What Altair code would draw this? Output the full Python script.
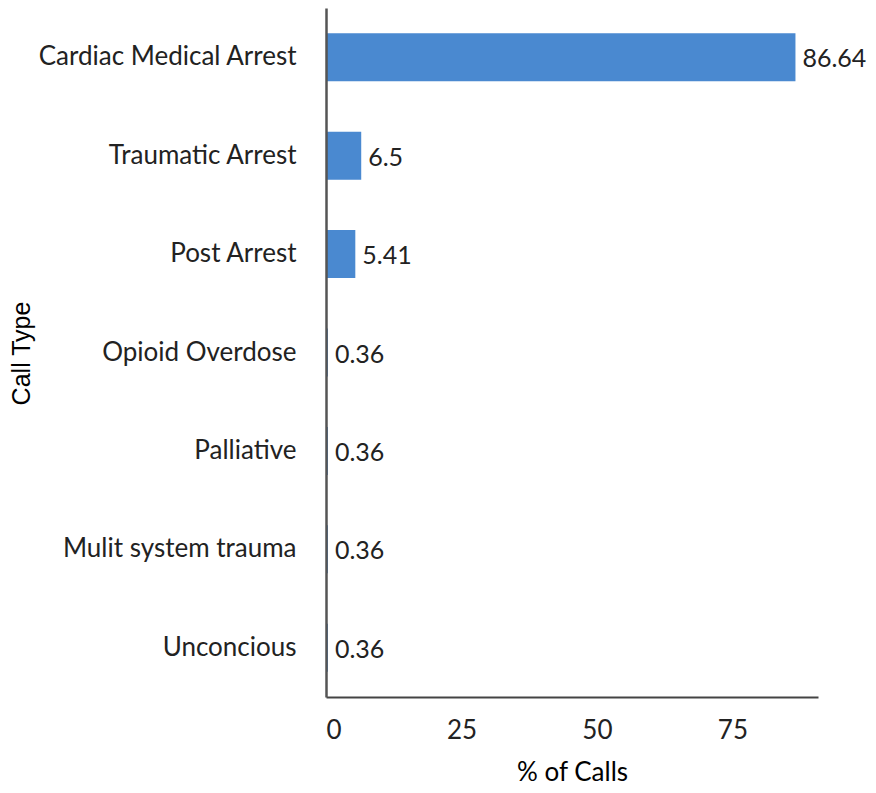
import altair as alt
import pandas as pd

categories = ["Cardiac Medical Arrest", "Traumatic Arrest", "Post Arrest",
              "Opioid Overdose", "Palliative", "Mulit system trauma", "Unconcious"]
values = [86.64, 6.5, 5.41, 0.36, 0.36, 0.36, 0.36]
value_labels = ["86.64", "6.5", "5.41", "0.36", "0.36", "0.36", "0.36"]
x_ticks = [0, 25, 50, 75]

df = pd.DataFrame({"cat": categories, "val": values, "lab": value_labels})

y_enc = alt.Y("cat:N", sort=categories,
              scale=alt.Scale(paddingInner=0, paddingOuter=0),
              axis=alt.Axis(title="Call Type", ticks=False, labelPadding=30,
                            labelLimit=0, zindex=1,
                            labelFont="Lato", labelFontSize=26, labelColor="#222",
                            titleFont="Arial", titleFontSize=25,
                            titleFontWeight="normal", titleColor="#000",
                            titleX=-305, titleY=345, titleAngle=-90,
                            titleBaseline="middle", titleAlign="center",
                            domainColor="#555", domainWidth=2.5))

x_enc = alt.X("val:Q", scale=alt.Scale(domain=[0, 90.8], nice=False),
              axis=alt.Axis(title="% of Calls", values=x_ticks, ticks=False,
                            grid=False, labelPadding=20, labelFont="Lato",
                            labelFontSize=26, labelColor="#222", zindex=1,
                            titleFont="Lato", titleFontSize=26,
                            titleFontWeight="normal", titleColor="#000",
                            titlePadding=16, domainColor="#444",
                            domainWidth=2))

bars = alt.Chart(df).mark_bar(size=48, color="#4a89d0").encode(x=x_enc, y=y_enc)

labels = alt.Chart(df).mark_text(align="left", baseline="middle", dx=7, dy=2,
                                 font="Lato", fontSize=25, color="#222").encode(
    x="val:Q", y=alt.Y("cat:N", sort=categories), text="lab:N")

chart = (bars + labels).properties(
    width=492, height=689,
    autosize=alt.AutoSizeParams(type="none"),
    padding={"left": 318, "top": 0, "right": 50, "bottom": 88},
).configure_view(stroke=None)

chart.save("out.html", embed_options={"renderer": "svg", "actions": False})
